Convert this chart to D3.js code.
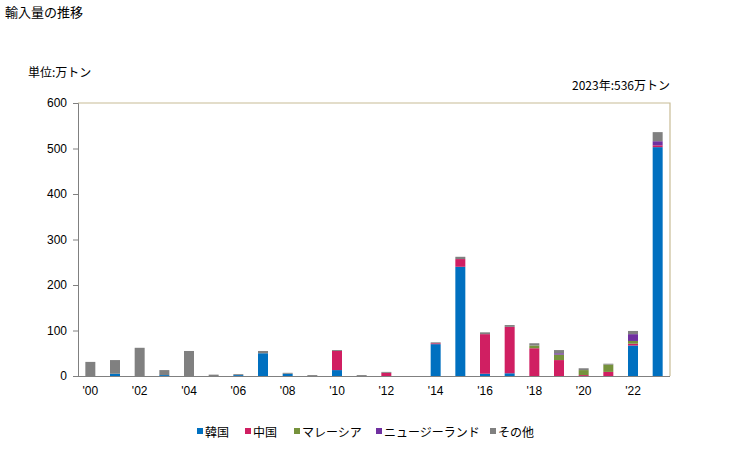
<!DOCTYPE html>
<html><head><meta charset="utf-8">
<script src="https://cdn.jsdelivr.net/npm/d3@7"></script>
<style>body{margin:0;background:#fff;} text{font-family:"Noto Sans CJK JP","Liberation Sans",sans-serif;}</style>
</head><body>
<script>
const years = d3.range(2000, 2024);
const seriesNames = ["韓国","中国","マレーシア","ニュージーランド","その他"];
const colors = ["#0070C0","#D01F62","#76923C","#7030A0","#808080"];
const korea    = [0,5,0,2,0,0,2,50,5,0,13,0,0,0,70,240,5,6,0,0,0,0,67,503];
const china    = [0,0,0,0,0,0,0,0,0,0,42,0,7,0,2,17,87,102,61,35,2,9,4,4];
const malaysia = [0,0,0,0,0,0,0,0,0,0,0,0,0,0,0,0,0,0,6,12,11,16,6,0];
const nz       = [0,0,0,0,0,0,0,0,0,0,0,0,0,0,0,0,0,0,0,3,0,0,15,9];
const other    = [31,30,62,11,55,3,2,5,2,2,2,2,2,0,2,5,4,4,5,7,4,2,7,20];
const yTicks = [0,100,200,300,400,500,600];

const W=729,H=450, L=78, R=670, T=103, B=376;
const svg = d3.select("body").append("svg").attr("width",W).attr("height",H);
const rows = years.map((y,i)=>({year:y,"韓国":korea[i],"中国":china[i],"マレーシア":malaysia[i],"ニュージーランド":nz[i],"その他":other[i]}));
const stack = d3.stack().keys(seriesNames)(rows);
const x = d3.scaleBand().domain(years).range([L,R]).paddingInner(0.595).paddingOuter(0.2975);
const y = d3.scaleLinear().domain([0,600]).range([B,T]);

// frame top/right
svg.append("path").attr("d",`M${L},${T}H${R}V${B}`).attr("fill","none").attr("stroke","#C8BC96").attr("stroke-width",1.2);

stack.forEach((s,si)=>{
  svg.append("g").attr("fill",colors[si]).selectAll("rect").data(s).join("rect")
    .attr("x",d=>x(d.data.year)).attr("width",x.bandwidth())
    .attr("y",d=>y(d[1])).attr("height",d=>y(d[0])-y(d[1]));
});

// axes
const ya = svg.append("g").attr("transform",`translate(${L},0)`)
  .call(d3.axisLeft(y).tickValues(yTicks).tickSize(5).tickPadding(6));
ya.select(".domain").attr("stroke","#808080");
ya.selectAll(".tick line").attr("stroke","#808080");
ya.selectAll("text").attr("font-size",12).attr("fill","#000").style("font-family","Liberation Sans, sans-serif");

const xa = svg.append("g").attr("transform",`translate(0,${B})`)
  .call(d3.axisBottom(x).tickValues(years.filter(v=>v%2===0)).tickSize(0).tickPadding(10)
    .tickFormat(v=>"'"+String(v).slice(2)));
xa.select(".domain").attr("stroke","#808080").attr("d",`M${L},0.5H${R}`);
xa.selectAll("text").attr("font-size",12).attr("fill","#000").style("font-family","Liberation Sans, sans-serif");

svg.append("text").attr("x",5).attr("y",17).attr("font-size",13).text("輸入量の推移");
svg.append("text").attr("x",28).attr("y",77).attr("font-size",12).text("単位:万トン");
svg.append("text").attr("x",670).attr("y",90).attr("font-size",12).attr("text-anchor","end").text("2023年:536万トン");

// legend
const lx = [197,245,294,376,490];
const lg = svg.append("g");
seriesNames.forEach((n,i)=>{
  lg.append("rect").attr("x",lx[i]).attr("y",428).attr("width",6).attr("height",6).attr("fill",colors[i]);
  lg.append("text").attr("x",lx[i]+8).attr("y",437).attr("font-size",12).text(n);
});
</script>
</body></html>
